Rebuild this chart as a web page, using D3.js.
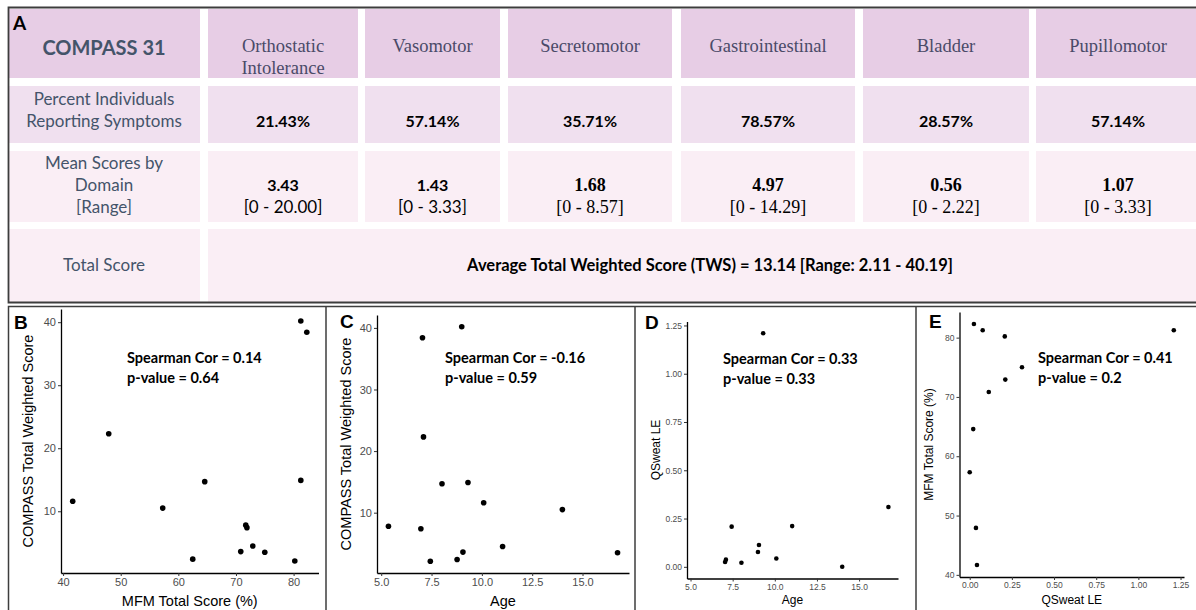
<!DOCTYPE html>
<html>
<head>
<meta charset="utf-8">
<script src="https://cdn.jsdelivr.net/npm/d3@7"></script>
<style>
  body { margin: 0; background: #fff; }
  svg { display: block; }
</style>
</head>
<body>
<script>
// ---- table data (panel A)
const domains = [["Orthostatic", "Intolerance"], ["Vasomotor"], ["Secretomotor"], ["Gastrointestinal"], ["Bladder"], ["Pupillomotor"]];
const pctReporting = [21.43, 57.14, 35.71, 78.57, 28.57, 57.14];
const meanScores = [3.43, 1.43, 1.68, 4.97, 0.56, 1.07];
const rangeMax = [20.00, 3.33, 8.57, 14.29, 2.22, 3.33];
const twsMean = 13.14;
const twsRange = [2.11, 40.19];

// ---- per subject values (panels B-E), null = not measured
const mfm = [82.29, 81.25, 81.25, 80.21, 75.0, 72.92, 71.9, 71.7, 70.83, 64.58, 62.5, 57.29, 47.92, 41.67];
const tws = [38.4, 40.19, 14.9, 2.11, 3.5, 4.5, 7.4, 7.8, 3.6, 14.7, 2.4, 10.5, 22.3, 11.6];
const age = [7.05, 9.0, 9.31, 7.44, 16.74, 11.03, 6.97, 5.36, 9.06, 8.02, 8.77, 14.0, 7.1, 10.09];
const qsweat = [0.025, 0.077, 1.21, 0.208, 0.31, 0.211, null, null, 0.113, 0.021, null, 0.0, 0.037, 0.043];

const spearmanCor = ["0.14", "-0.16", "0.33", "0.41"];
const pValues = ["0.64", "0.59", "0.33", "0.2"];

const W = 1196, H = 610;
const svg = d3.select('body').append('svg')
  .attr('width', W)
  .attr('height', H);

// ---------------- panel A : table
const sans = 'Lato, "Open Sans", sans-serif';
const serif = '"Liberation Serif", "DejaVu Serif", serif';
const slate = '#44546A';
const colEdges = [[8, 200], [208, 358], [365, 500], [508, 672], [681, 855], [863, 1029], [1036, 1200]];
const rowEdges = [[9, 78], [86, 143], [151, 222], [229, 302]];
const rowFill = ['#E7CDE5', '#F0E0EF', '#FAEEF5', '#FAEEF5'];

const tbl = svg.append('g');
rowEdges.forEach((r, ri) => {
  const cells = ri === 3 ? [colEdges[0], [colEdges[1][0], colEdges[6][1]]] : colEdges;
  tbl.selectAll(null)
    .data(cells)
    .enter()
    .append('rect')
    .attr('x', (d) => d[0])
    .attr('y', r[0])
    .attr('width', (d) => d[1] - d[0])
    .attr('height', r[1] - r[0])
    .attr('fill', rowFill[ri]);
});

const cx = (i) => (colEdges[i][0] + colEdges[i][1]) / 2;

function textLines(g, x, ys, lines, font, size, weight, color) {
  g.selectAll(null)
    .data(lines)
    .enter()
    .append('text')
    .attr('x', x)
    .attr('y', (d, i) => ys[i])
    .attr('text-anchor', 'middle')
    .attr('font-family', font)
    .attr('font-size', size)
    .attr('font-weight', weight)
    .attr('fill', color)
    .text((d) => d);
}

// header row
tbl.append('text').attr('x', 13).attr('y', 30)
  .attr('font-family', sans).attr('font-size', 19).attr('font-weight', 700).attr('fill', '#000')
  .text('A');
textLines(tbl, 104, [55], ['COMPASS 31'], sans, 20, 700, slate);
domains.forEach((d, i) => {
  const ys = d.length === 2 ? [52, 74] : [52];
  textLines(tbl, cx(i + 1), ys, d, serif, 18.5, 400, '#4A4A68');
});

// row 1
textLines(tbl, 104, [105, 127], ['Percent Individuals', 'Reporting Symptoms'], sans, 17, 400, slate);
pctReporting.forEach((v, i) => {
  textLines(tbl, cx(i + 1), [127], [v.toFixed(2) + '%'], sans, 16, 700, '#000');
});

// row 2
textLines(tbl, 104, [169, 191, 213], ['Mean Scores by', 'Domain', '[Range]'], sans, 17, 400, slate);
meanScores.forEach((v, i) => {
  const f = i < 2 ? sans : serif;
  textLines(tbl, cx(i + 1), [191], [v.toFixed(2)], f, i < 2 ? 16 : 18, 700, '#000');
  textLines(tbl, cx(i + 1), [213], ['[0 - ' + rangeMax[i].toFixed(2) + ']'], f, i < 2 ? 17 : 18, 400, '#000');
});

// row 3
textLines(tbl, 104, [271], ['Total Score'], sans, 17, 400, slate);
textLines(tbl, (colEdges[1][0] + colEdges[6][1]) / 2 + 6, [271],
  [`Average Total Weighted Score (TWS) = ${twsMean.toFixed(2)} [Range: ${twsRange[0].toFixed(2)} - ${twsRange[1].toFixed(2)}]`],
  sans, 16.5, 700, '#000');

// table frame
const frame = svg.append('g').attr('stroke', '#3d3d3d').attr('fill', 'none');
frame.append('path').attr('d', 'M1196,7.5H8.5V302.5H1196').attr('stroke-width', 1.8);

// ---------------- panels B-E : scatter plots
const bottomFrame = svg.append('g').attr('stroke', '#3d3d3d').attr('fill', 'none').attr('stroke-width', 1.5);
bottomFrame.append('path').attr('d', 'M1196,306.5H8.5V610');
[326, 635, 916].forEach((x) => {
  bottomFrame.append('line').attr('x1', x).attr('x2', x).attr('y1', 306).attr('y2', 610);
});

const arial = '"Liberation Sans", Arial, sans-serif';

function expand(ext) {
  const pad = (ext[1] - ext[0]) * 0.05;
  return [ext[0] - pad, ext[1] + pad];
}

function textLinesLeft(g, x, ys, lines) {
  g.selectAll(null)
    .data(lines)
    .enter()
    .append('text')
    .attr('x', x)
    .attr('y', (d, i) => ys[i])
    .attr('font-family', sans)
    .attr('font-size', 14.5)
    .attr('font-weight', 700)
    .text((d) => d);
}

function scatter(o) {
  const g = svg.append('g');
  // ggplot-like 5% padding on both scales
  const x = d3.scaleLinear().domain(expand(d3.extent(o.xs))).range([o.x0, o.x1]);
  const y = d3.scaleLinear().domain(expand(d3.extent(o.ys))).range([o.y1, o.y0]);
  const pts = o.xs.map((v, i) => [v, o.ys[i]]).filter((d) => d[0] != null && d[1] != null);

  const xAxis = g.append('g')
    .attr('transform', `translate(0,${o.y1})`)
    .call(d3.axisBottom(x).tickValues(o.xTicks).tickFormat(d3.format(o.xFmt)).tickSize(3).tickSizeOuter(0).tickPadding(2));
  const yAxis = g.append('g')
    .attr('transform', `translate(${o.x0},0)`)
    .call(d3.axisLeft(y).tickValues(o.yTicks).tickFormat(d3.format(o.yFmt)).tickSize(3).tickSizeOuter(0).tickPadding(2));
  [xAxis, yAxis].forEach((a) => {
    a.select('.domain').attr('stroke', '#000').attr('stroke-width', 1.3);
    a.selectAll('.tick line').attr('stroke', '#333').attr('stroke-width', 1);
    a.selectAll('.tick text').attr('fill', '#4D4D4D')
      .attr('font-family', arial).attr('font-size', o.tickSize);
  });

  g.selectAll('circle')
    .data(pts)
    .enter()
    .append('circle')
    .attr('cx', (d) => x(d[0]))
    .attr('cy', (d) => y(d[1]))
    .attr('r', o.r)
    .attr('fill', '#000');

  g.append('text')
    .attr('x', (o.x0 + o.x1) / 2)
    .attr('y', o.xTitleY)
    .attr('text-anchor', 'middle')
    .attr('font-family', arial).attr('font-size', o.titleSize)
    .text(o.xTitle);
  g.append('text')
    .attr('transform', `translate(${o.yTitleX},${(o.y0 + o.y1) / 2}) rotate(-90)`)
    .attr('text-anchor', 'middle')
    .attr('font-family', arial).attr('font-size', o.titleSize)
    .text(o.yTitle);

  g.append('text')
    .attr('x', o.letter[1]).attr('y', o.letter[2])
    .attr('font-family', arial).attr('font-size', 19).attr('font-weight', 700)
    .text(o.letter[0]);

  textLinesLeft(g, o.note[0], [o.note[1], o.note[1] + 20],
    [`Spearman Cor = ${spearmanCor[o.idx]}`, `p-value = ${pValues[o.idx]}`]);
}

scatter({
  idx: 0, xs: mfm, ys: tws, x0: 61, x1: 318.5, y0: 309, y1: 573,
  xTicks: [40, 50, 60, 70, 80], xFmt: 'd', yTicks: [10, 20, 30, 40], yFmt: 'd',
  tickSize: 11, titleSize: 14.5, r: 2.8,
  xTitle: 'MFM Total Score (%)', xTitleY: 606, yTitle: 'COMPASS Total Weighted Score', yTitleX: 33,
  letter: ['B', 14, 329], note: [127, 363]
});
scatter({
  idx: 1, xs: age, ys: tws, x0: 377, x1: 629, y0: 315, y1: 573,
  xTicks: [5, 7.5, 10, 12.5, 15], xFmt: '.1f', yTicks: [10, 20, 30, 40], yFmt: 'd',
  tickSize: 11, titleSize: 14.5, r: 2.8,
  xTitle: 'Age', xTitleY: 606, yTitle: 'COMPASS Total Weighted Score', yTitleX: 351,
  letter: ['C', 340, 328], note: [445, 363]
});
scatter({
  idx: 2, xs: age, ys: qsweat, x0: 687, x1: 898, y0: 321.5, y1: 578.5,
  xTicks: [5, 7.5, 10, 12.5, 15], xFmt: '.1f', yTicks: [0, 0.25, 0.5, 0.75, 1, 1.25], yFmt: '.2f',
  tickSize: 8.5, titleSize: 12, r: 2.3,
  xTitle: 'Age', xTitleY: 604, yTitle: 'QSweat LE', yTitleX: 660,
  letter: ['D', 645, 329], note: [723, 364]
});
scatter({
  idx: 3, xs: qsweat, ys: mfm, x0: 959.5, x1: 1184, y0: 312, y1: 577,
  xTicks: [0, 0.25, 0.5, 0.75, 1, 1.25], xFmt: '.2f', yTicks: [40, 50, 60, 70, 80], yFmt: 'd',
  tickSize: 8.5, titleSize: 12, r: 2.3,
  xTitle: 'QSweat LE', xTitleY: 604, yTitle: 'MFM Total Score (%)', yTitleX: 933,
  letter: ['E', 929, 328], note: [1038, 363]
});
</script>
</body>
</html>
